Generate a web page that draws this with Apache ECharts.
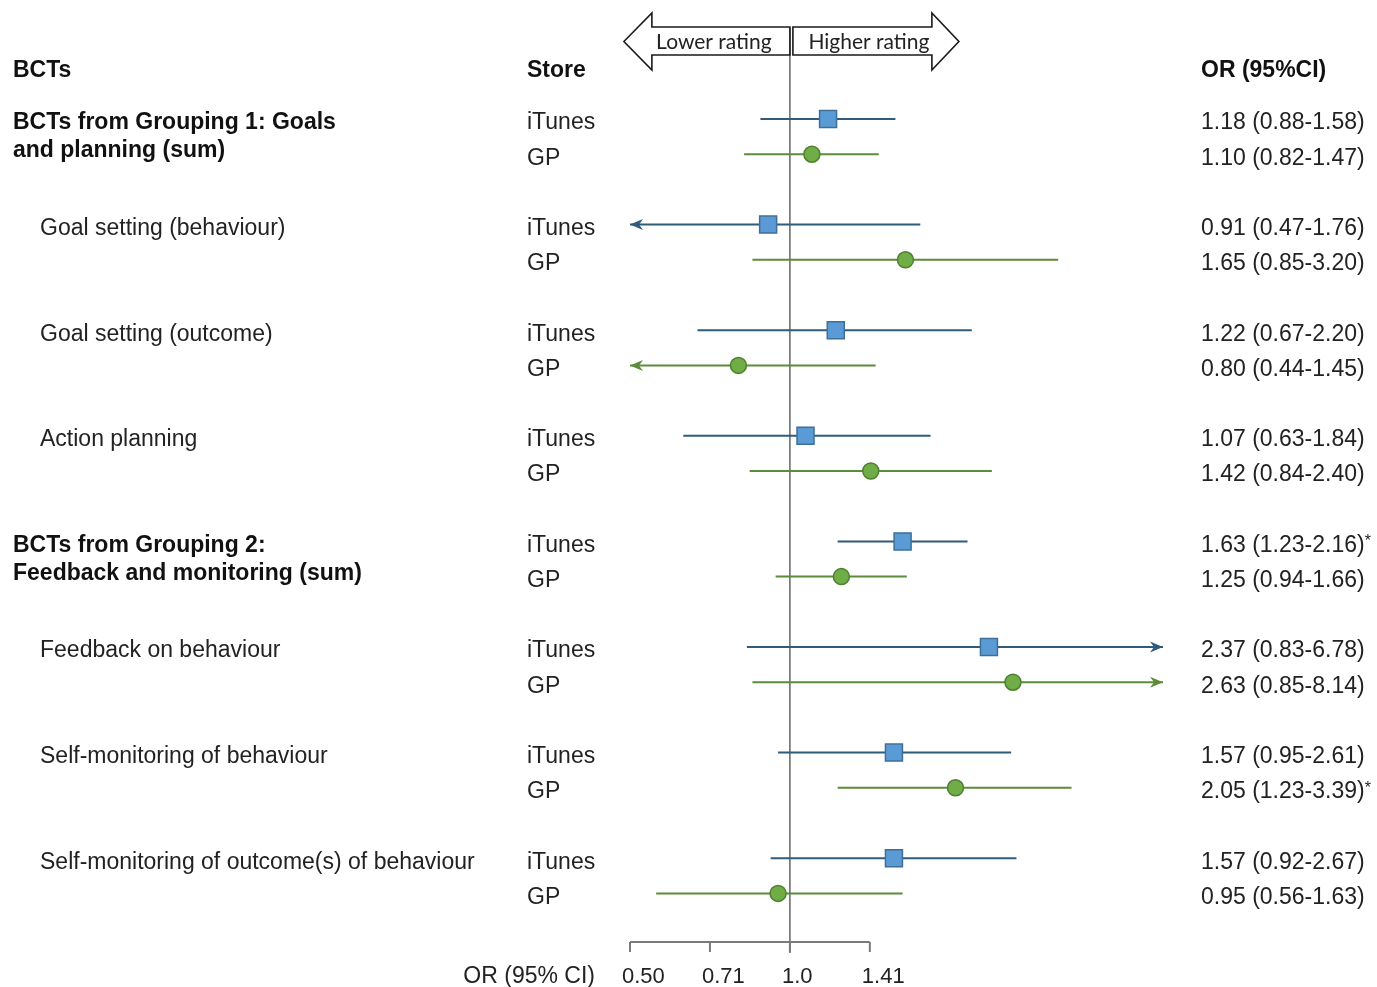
<!DOCTYPE html>
<html><head><meta charset="utf-8">
<script src="https://cdn.jsdelivr.net/npm/echarts@6/dist/echarts.min.js"></script>
<style>html,body{margin:0;padding:0;background:#fff}#c{width:1377px;height:987px}</style>
</head><body><div id="c"></div>
<script>
// ---------- data ----------
const bctLabels = [
  'BCTs from Grouping 1: Goals\nand planning (sum)',
  'Goal setting (behaviour)',
  'Goal setting (outcome)',
  'Action planning',
  'BCTs from Grouping 2:\nFeedback and monitoring (sum)',
  'Feedback on behaviour',
  'Self-monitoring of behaviour',
  'Self-monitoring of outcome(s) of behaviour'
];
const groupHeader = [true, false, false, false, true, false, false, false];
const stores = ['iTunes', 'GP'];
const itunesOR = [1.18, 0.91, 1.22, 1.07, 1.63, 2.37, 1.57, 1.57];
const itunesLo = [0.88, 0.47, 0.67, 0.63, 1.23, 0.83, 0.95, 0.92];
const itunesHi = [1.58, 1.76, 2.20, 1.84, 2.16, 6.78, 2.61, 2.67];
const itunesSig = [false, false, false, false, true, false, false, false];
const gpOR = [1.10, 1.65, 0.80, 1.42, 1.25, 2.63, 2.05, 0.95];
const gpLo = [0.82, 0.85, 0.44, 0.84, 0.94, 0.85, 1.23, 0.56];
const gpHi = [1.47, 3.20, 1.45, 2.40, 1.66, 8.14, 3.39, 1.63];
const gpSig = [false, false, false, false, false, false, true, false];
const axisTicks = [0.5, 0.7071, 1.0, 1.4142];
const axisTickLabels = ['0.50', '0.71', '1.0', '1.41'];
const headers = ['BCTs', 'Store', 'OR (95%CI)'];
const axisTitle = 'OR (95% CI)';
const directionLabels = ['Lower rating', 'Higher rating'];

// ---------- layout / style ----------
const XMIN = 0.5, XMAX = 5.04;
const FONT = '"Liberation Sans", Arial, sans-serif';
const FS = 23;
const TXT = '#222';
const BLUE_LINE = '#2F5B7C', BLUE_FILL = '#5B9BD5', BLUE_EDGE = '#3F6F99';
const GREEN_LINE = '#5B8C3A', GREEN_FILL = '#70AD47', GREEN_EDGE = '#4F7F30';
const AXIS_Y = 942;
const TY = 4; // text vertical nudge

const rows = [];
bctLabels.forEach((_, g) => { rows.push(g + '-iTunes', g + '-GP', g + '-gap'); });

const ciData = [];
itunesOR.forEach((_, i) => ciData.push([itunesLo[i], itunesHi[i], 3 * i, 0]));
gpOR.forEach((_, i) => ciData.push([gpLo[i], gpHi[i], 3 * i + 1, 1]));

const fmt = v => v.toFixed(2);
function orText(v, lo, hi) { return fmt(v) + ' (' + fmt(lo) + '-' + fmt(hi) + ')'; }

const chart = echarts.init(document.getElementById('c'), null, {renderer: 'canvas'});

function arrowHead(x, y, dir, color) {
  return {
    type: 'polygon',
    shape: {points: [[x, y], [x - dir * 13, y - 5.5], [x - dir * 9, y], [x - dir * 13, y + 5.5]]},
    style: {fill: color}
  };
}

const option = {
  animation: false,
  backgroundColor: '#fff',
  grid: {left: 630, width: 533, top: 101.4, height: 844.8, containLabel: false},
  xAxis: {
    type: 'log', logBase: 2, min: XMIN, max: XMAX,
    show: false, splitLine: {show: false}
  },
  yAxis: {
    type: 'category', data: rows, inverse: true, show: false
  },
  series: [
    {
      type: 'custom', silent: true, clip: false, z: 1,
      data: [[1, 0]],
      encode: {x: 0, y: 1},
      renderItem: function (params, api) {
        const cx = api.coord([1, 0])[0];
        const children = [];
        children.push({type: 'line', shape: {x1: cx, y1: 28, x2: cx, y2: AXIS_Y + 11},
          style: {stroke: '#6e6e6e', lineWidth: 1.6}});
        const xa = api.coord([axisTicks[0], 0])[0];
        const xb = api.coord([axisTicks[axisTicks.length - 1], 0])[0];
        children.push({type: 'line', shape: {x1: xa, y1: AXIS_Y, x2: xb, y2: AXIS_Y},
          style: {stroke: '#7a7a7a', lineWidth: 2}});
        axisTicks.forEach((t, k) => {
          const tx = api.coord([t, 0])[0];
          children.push({type: 'line', shape: {x1: tx, y1: AXIS_Y, x2: tx, y2: AXIS_Y + 10},
            style: {stroke: '#7a7a7a', lineWidth: 2}});
          children.push({type: 'text', style: {text: axisTickLabels[k], x: tx - 8, y: AXIS_Y + 35,
            font: '22px ' + FONT, fill: TXT, align: 'left', verticalAlign: 'middle'}});
        });
        children.push({type: 'text', style: {text: axisTitle, x: 595, y: AXIS_Y + 35,
          font: FS + 'px ' + FONT, fill: TXT, align: 'right', verticalAlign: 'middle'}});
        const yT = 13, yS1 = 27, yS2 = 55, yB = 70, yM = 41.5;
        children.push({type: 'polygon', shape: {points: [
          [cx - 166, yM], [cx - 138, yT], [cx - 138, yS1], [cx, yS1], [cx, yS2], [cx - 138, yS2], [cx - 138, yB]]},
          style: {fill: '#fff', stroke: '#1a1a1a', lineWidth: 1.6}});
        children.push({type: 'polygon', shape: {points: [
          [cx + 3, yS1], [cx + 142, yS1], [cx + 142, yT], [cx + 169, yM], [cx + 142, yB], [cx + 142, yS2], [cx + 3, yS2]]},
          style: {fill: '#fff', stroke: '#1a1a1a', lineWidth: 1.6}});
        children.push({type: 'text', style: {text: directionLabels[0], x: cx - 76, y: yM + 1,
          font: '21px Lato, "Open Sans", sans-serif', fill: '#222', align: 'center', verticalAlign: 'middle'}});
        children.push({type: 'text', style: {text: directionLabels[1], x: cx + 79, y: yM + 1,
          font: '21px Lato, "Open Sans", sans-serif', fill: '#222', align: 'center', verticalAlign: 'middle'}});
        const hx = [13, 527, 1201];
        headers.forEach((h, k) => {
          children.push({type: 'text', style: {text: h, x: hx[k], y: 71,
            font: 'bold ' + FS + 'px ' + FONT, fill: '#111', align: 'left', verticalAlign: 'middle'}});
        });
        return {type: 'group', children: children};
      }
    },
    {
      type: 'custom', silent: true, clip: false, z: 2,
      data: bctLabels.map((_, g) => [1, 3 * g, g]),
      encode: {x: 0, y: 1},
      renderItem: function (params, api) {
        const g = api.value(2);
        const y0 = api.coord([1, 3 * g])[1];
        const y1 = api.coord([1, 3 * g + 1])[1];
        const children = [];
        const lines = bctLabels[g].split('\n');
        lines.forEach((ln, k) => {
          children.push({type: 'text', style: {text: ln, x: groupHeader[g] ? 13 : 40, y: y0 + TY + k * 28,
            font: (groupHeader[g] ? 'bold ' : '') + FS + 'px ' + FONT, fill: groupHeader[g] ? '#111' : TXT,
            align: 'left', verticalAlign: 'middle'}});
        });
        children.push({type: 'text', style: {text: stores[0], x: 527, y: y0 + TY,
          font: FS + 'px ' + FONT, fill: TXT, align: 'left', verticalAlign: 'middle'}});
        children.push({type: 'text', style: {text: stores[1], x: 527, y: y1 + TY,
          font: FS + 'px ' + FONT, fill: TXT, align: 'left', verticalAlign: 'middle'}});
        const rich = {a: {font: FS + 'px ' + FONT, fill: TXT}, s: {font: '16px ' + FONT, fill: TXT, verticalAlign: 'top'}};
        children.push({type: 'text', style: {
          text: '{a|' + orText(itunesOR[g], itunesLo[g], itunesHi[g]) + '}' + (itunesSig[g] ? '{s|*}' : ''),
          x: 1201, y: y0 + TY, align: 'left', verticalAlign: 'middle', rich: rich}});
        children.push({type: 'text', style: {
          text: '{a|' + orText(gpOR[g], gpLo[g], gpHi[g]) + '}' + (gpSig[g] ? '{s|*}' : ''),
          x: 1201, y: y1 + TY, align: 'left', verticalAlign: 'middle', rich: rich}});
        return {type: 'group', children: children};
      }
    },
    {
      type: 'custom', silent: true, clip: false, z: 3,
      data: ciData,
      encode: {x: [0, 1], y: 2},
      renderItem: function (params, api) {
        const lo = api.value(0), hi = api.value(1), yi = api.value(2), s = api.value(3);
        const color = s === 0 ? BLUE_LINE : GREEN_LINE;
        const p1 = api.coord([Math.max(lo, XMIN), yi]);
        const p2 = api.coord([Math.min(hi, XMAX), yi]);
        const children = [{type: 'line', shape: {x1: p1[0], y1: p1[1], x2: p2[0], y2: p2[1]},
          style: {stroke: color, lineWidth: 2}}];
        if (lo < XMIN) children.push(arrowHead(p1[0], p1[1], -1, color));
        if (hi > XMAX) children.push(arrowHead(p2[0], p2[1], 1, color));
        return {type: 'group', children: children};
      }
    },
    {
      name: 'iTunes', type: 'scatter', z: 4,
      symbol: 'rect', symbolSize: 17,
      itemStyle: {color: BLUE_FILL, borderColor: BLUE_EDGE, borderWidth: 1.5, opacity: 1},
      data: itunesOR.map((v, i) => [v, rows[3 * i]])
    },
    {
      name: 'GP', type: 'scatter', z: 4,
      symbol: 'circle', symbolSize: 16,
      itemStyle: {color: GREEN_FILL, borderColor: GREEN_EDGE, borderWidth: 1.5, opacity: 1},
      data: gpOR.map((v, i) => [v, rows[3 * i + 1]])
    }
  ]
};
chart.setOption(option);
</script>
</body></html>
